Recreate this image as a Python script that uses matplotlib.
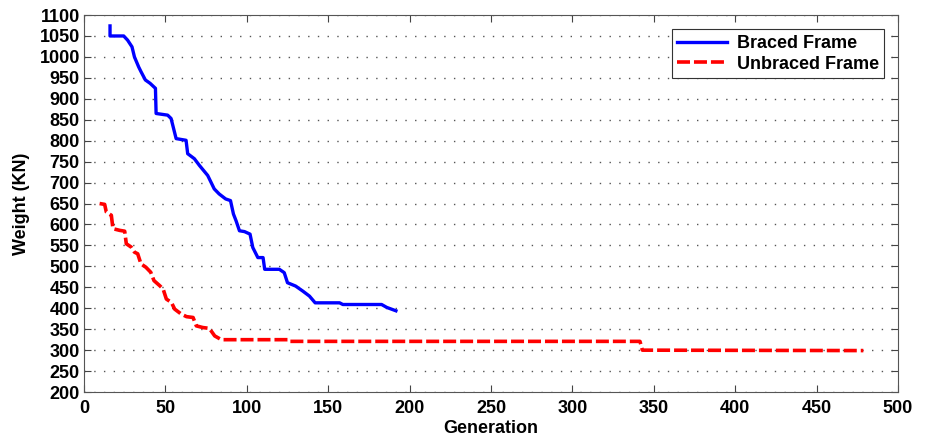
import matplotlib
matplotlib.use('Agg')
from matplotlib import pyplot as plt

# Braced frame (blue, solid)
braced_gen = [16, 16, 24.4, 26.8, 29.5, 31, 33.6, 35, 37.7, 40.6, 43.9, 44.3, 51.4, 53.5, 56.6,
              62.7, 63.7, 67.8, 70.9, 76, 80, 83, 87, 90, 91.8, 93.4, 95.5, 98.6, 102, 103.7,
              106.8, 110, 111, 120, 123, 125, 130, 134.4, 138.5, 142, 157, 159, 182.8, 186, 191.6]
braced_w = [1074, 1050, 1050, 1040, 1024, 1000, 976, 965, 945, 937, 925, 865, 861, 853, 805,
            801, 769, 757, 741, 717, 685, 673, 661, 657, 625, 609, 585, 583, 577, 545,
            521, 521, 493, 493, 485, 461, 453, 441, 429, 413, 413, 409, 409, 402, 394]

# Unbraced frame (red, dashed)
unbraced_gen = [9.6, 12.7, 13.7, 16.8, 17.8, 21.9, 25, 26, 29, 31, 33, 35, 38, 41, 43, 46.5,
                48.6, 50.6, 53.7, 55.7, 59.8, 63, 67, 69, 73, 77, 80.3, 84.4, 125, 125.5,
                265, 341.5, 343, 478.7]
unbraced_w = [650, 648, 630, 622, 590, 586, 584, 554, 546, 534, 530, 506, 498, 486, 466, 454,
              446, 422, 414, 398, 386, 380, 378, 358, 354, 352, 334, 325, 325, 321,
              321, 321, 300, 299]

xticks = list(range(0, 501, 50))
yticks = list(range(200, 1101, 50))

plt.rcParams['font.family'] = ['Liberation Sans', 'DejaVu Sans']
plt.rcParams['font.weight'] = 'bold'

fig = plt.figure(figsize=(9.3, 4.42), dpi=100)
ax = fig.add_axes([0.0903, 0.113, 0.8753, 0.853])

ax.plot(braced_gen, braced_w, color='#0000ff', lw=2.4, label='Braced Frame')
ax.plot(unbraced_gen, unbraced_w, color='#ff0000', lw=2.6, ls=(0, (3.6, 1.1)), label='Unbraced Frame')

ax.set_xlim(0, 500)
ax.set_ylim(200, 1100)
ax.set_xticks(xticks)
ax.set_yticks(yticks)
ax.tick_params(direction='in', top=True, right=True, labelsize=13, length=5, color='#444444')
ax.tick_params(axis='x', pad=6)
ax.tick_params(axis='y', pad=3)
for lab in ax.get_xticklabels() + ax.get_yticklabels():
    lab.set_fontweight('bold')
for s in ax.spines.values():
    s.set_color('#555555')
ax.yaxis.grid(True, ls=(0, (1, 6)), color='#555555', lw=1.0)

ax.set_xlabel('Generation', fontsize=13, fontweight='bold', labelpad=2)
ax.set_ylabel('Weight (KN)', fontsize=13, fontweight='bold', labelpad=7)

leg = ax.legend(loc='upper right', bbox_to_anchor=(0.9895, 0.976), fontsize=13, fancybox=False,
                framealpha=1, edgecolor='#333333', handlelength=2.8, borderpad=0.3,
                labelspacing=0.2, handletextpad=0.5, borderaxespad=0.3)
leg.get_frame().set_linewidth(0.8)

plt.savefig('out.png', dpi=100)
